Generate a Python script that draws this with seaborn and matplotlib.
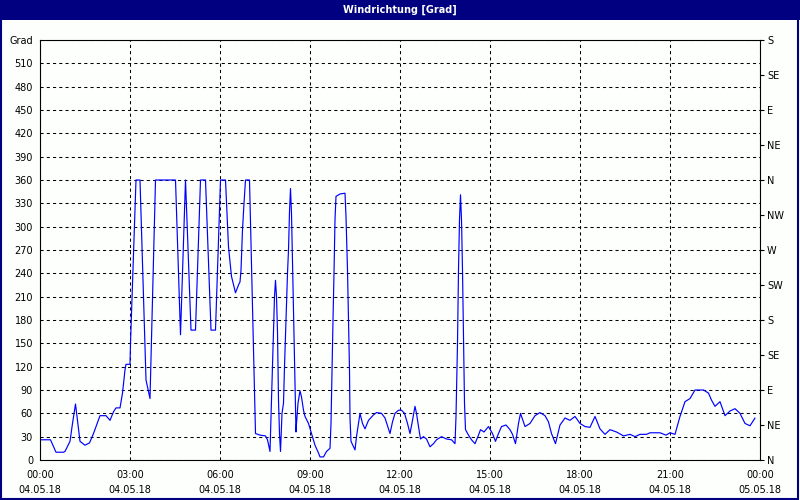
import matplotlib
matplotlib.use("Agg")
import matplotlib.pyplot as plt
import matplotlib.dates as mdates
import matplotlib.patches as mpatches
import pandas as pd
import seaborn as sns

# minutes after 04.05.18 00:00 and wind direction in degrees
minutes = [0, 21, 32, 47, 50, 60, 65, 71, 80, 90, 99, 107, 120, 132, 140, 147, 152, 160,
           165, 170, 172, 180, 181, 192, 200, 212, 217, 220, 231, 271, 281, 291, 302,
           311, 321, 331, 342, 351, 361, 371, 377, 381, 383, 388, 391, 397, 400, 402,
           405, 408, 411, 419, 431, 440, 451, 455, 460,
           463, 467, 469, 471, 473, 475, 477, 479, 481, 484, 487, 489, 492, 495, 497,
           499, 501, 503, 505, 507, 509, 511, 512, 513, 516, 520, 523, 527, 530, 537,
           543, 550, 557, 560, 567, 573, 580, 582, 584, 586, 588, 590, 592, 600, 610,
           612, 615, 617, 619, 620, 622, 627, 630, 633, 637, 640, 645, 650, 657, 667,
           673, 683, 690, 700, 705, 710, 717, 723, 729, 735, 740, 745, 750, 753, 757,
           761, 767, 773, 780, 787, 793, 803, 813, 823, 830, 832, 835, 837, 839, 841,
           843, 845, 847, 849, 851, 857, 863, 870, 877, 881, 888, 897, 905, 911, 917,
           923, 932, 940,
           945, 951, 957, 961, 970, 980, 990, 1000, 1010, 1017, 1023, 1031, 1040,
           1050, 1060, 1070, 1080, 1090, 1100, 1110, 1120, 1130, 1140, 1153, 1167,
           1180, 1190, 1200, 1213, 1220, 1240, 1252, 1260, 1270, 1280, 1290, 1300,
           1310, 1327, 1337, 1343, 1350, 1360, 1370, 1380, 1390, 1400, 1410, 1420, 1430]
degrees = [26, 26, 10, 10, 11, 24, 47, 72, 24, 19, 22, 34, 57, 57, 51, 62, 67, 67,
           86, 116, 123, 123, 150, 360, 360, 103, 88, 79, 360, 360, 161, 360, 167,
           167, 360, 360, 167, 167, 360, 360, 274, 249, 236, 223, 215, 225, 229, 244,
           296, 330, 360, 360, 34, 32, 31, 26, 11,
           77, 165, 210, 231, 210, 165, 77, 34, 11, 60, 73, 120, 180, 240, 270,
           319, 349, 317, 253, 189, 124, 64, 36, 47, 73, 89, 81, 64, 56, 47,
           34, 19, 9, 4, 4, 11, 15, 47, 116, 180, 240, 309, 339, 342, 343,
           313, 244, 180, 116, 54, 24, 17, 13, 30, 47, 60, 47, 40, 51, 58,
           61, 60, 54, 34, 49, 60, 64, 64, 60, 47, 34, 51, 69, 60, 43,
           27, 30, 27, 17, 21, 26, 30, 27, 26, 21, 56, 150, 244, 309, 341,
           309, 244, 159, 73, 39, 32, 26, 21, 32, 39, 36, 43, 34, 24, 34,
           43, 45, 39,
           33, 21, 47, 60, 43, 47, 57, 61, 57, 49, 34, 21, 45,
           54, 51, 56, 47, 43, 42, 56, 40, 33, 39, 36, 31,
           33, 30, 33, 33, 35, 35, 32, 35, 33, 56, 75, 79,
           90, 90, 86, 77, 69, 75, 57, 63, 66, 60, 47, 44, 54]

left_ticks = list(range(0, 541, 30))
left_labels = [str(v) for v in range(0, 511, 30)] + ["Grad"]
right_ticks = list(range(0, 541, 45))
right_labels = ["N", "NE", "E", "SE", "S", "SW", "W", "NW", "N", "NE", "E", "SE", "S"]
title = "Windrichtung [Grad]"

start = pd.Timestamp("2018-05-04 00:00")
end = pd.Timestamp("2018-05-05 00:00")
df = pd.DataFrame({
    "time": start + pd.to_timedelta(minutes, unit="min"),
    "deg": degrees,
})

sns.set_style("white")
plt.rcParams["font.family"] = ["DejaVu Sans"]
plt.rcParams["font.size"] = 7

navy = "#000080"
fig = plt.figure(figsize=(8, 5), dpi=100, facecolor="#fcfffc")
ax = fig.add_axes([0.05, 0.08, 0.90, 0.84])
ax.set_facecolor("#fcfffc")

sns.lineplot(data=df, x="time", y="deg", ax=ax, color="#0000ff", linewidth=0.85)

ax.set_xlim(start, end)
ax.set_ylim(0, 540)
ax.set_xlabel("")
ax.set_ylabel("")

ax.set_yticks(left_ticks)
ax.set_yticklabels(left_labels)
ax.xaxis.set_major_locator(mdates.HourLocator(byhour=range(0, 24, 3)))
ax.xaxis.set_minor_locator(mdates.HourLocator())
ax.xaxis.set_major_formatter(mdates.DateFormatter("%H:%M\n%d.%m.%y"))
for lab in ax.get_xticklabels():
    lab.set_linespacing(1.7)

grid_kw = dict(color="black", linewidth=0.75, linestyle=(0, (3, 3)))
ax.grid(True, axis="y", **grid_kw)
ax.grid(True, axis="x", which="major", **grid_kw)

ax.tick_params(axis="y", length=0, pad=5, labelsize=7, colors="black")
ax.tick_params(axis="x", which="both", direction="out", length=4, width=0.8,
               pad=3, labelsize=7, colors="black")

for s in ax.spines.values():
    s.set_visible(True)
    s.set_color("black")
    s.set_linewidth(0.8)

ax2 = ax.twinx()
ax2.set_ylim(0, 540)
ax2.set_yticks(right_ticks)
ax2.set_yticklabels(right_labels)
ax2.tick_params(axis="y", direction="out", length=3, width=0.8, pad=2,
                labelsize=7, colors="black")
ax2.grid(False)
for s in ax2.spines.values():
    s.set_visible(False)

# window frame and title bar
fig.patches.append(mpatches.Rectangle((0, 0.96), 1, 0.04, transform=fig.transFigure,
                                      facecolor=navy, edgecolor="none", zorder=0))
fig.patches.append(mpatches.Rectangle((0.001, 0.002), 0.997, 0.996, transform=fig.transFigure,
                                      facecolor="none", edgecolor=navy, linewidth=1.5))
fig.text(0.5, 0.98, title, color="white", fontsize=7, fontweight="bold",
         ha="center", va="center")

plt.savefig("out.png", dpi=100, facecolor=fig.get_facecolor())
plt.close()
